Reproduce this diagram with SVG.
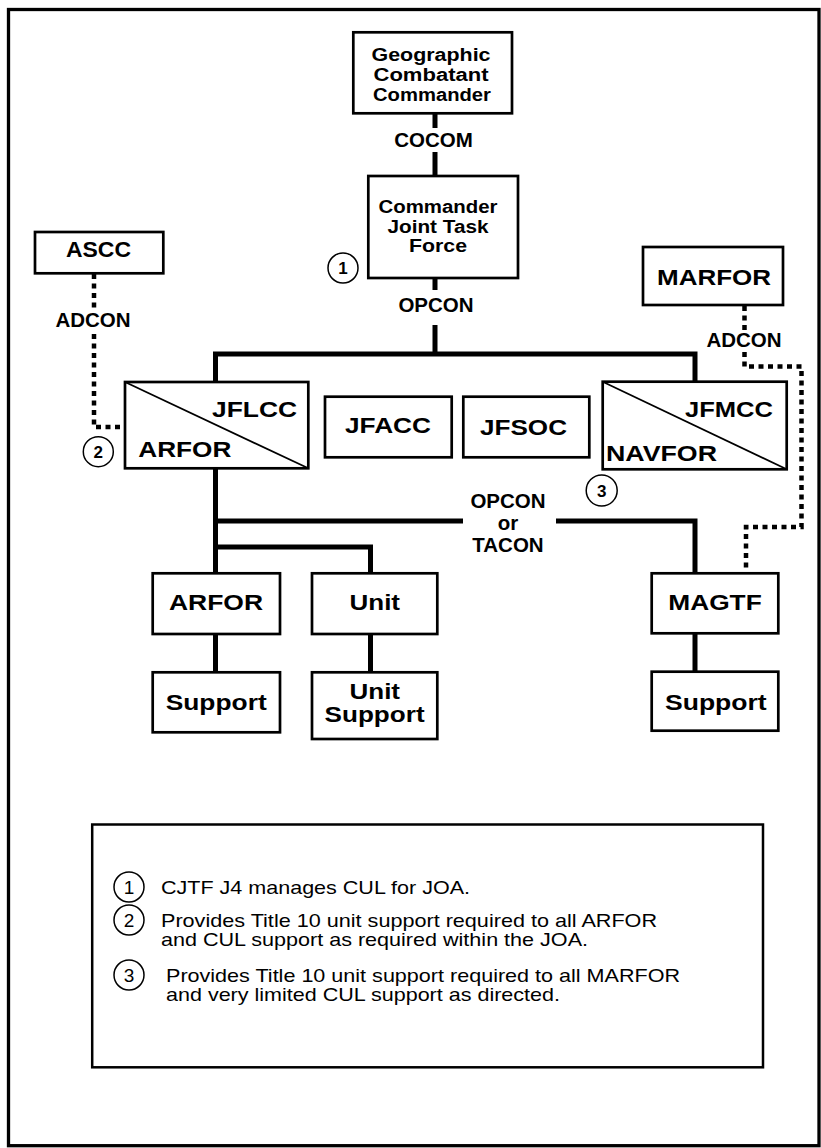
<svg xmlns="http://www.w3.org/2000/svg" width="821" height="1148" viewBox="0 0 821 1148">
<style>
.box{fill:#fff;stroke:#000;stroke-width:2.7}
.diag{stroke:#000;stroke-width:1.8}
.conn{fill:none;stroke:#000;stroke-width:5}
.dot{fill:none;stroke:#000;stroke-width:4.5;stroke-dasharray:5 4.5}
.lb{font-family:"Liberation Sans",Arial,sans-serif;font-weight:bold;font-size:20.5px;text-anchor:middle;fill:#000}
.ml{font-family:"Liberation Sans",Arial,sans-serif;font-weight:bold;font-size:18px;fill:#000}
.big{font-family:"Liberation Sans",Arial,sans-serif;font-weight:bold;font-size:22px;fill:#000}
.note{font-family:"Liberation Sans",Arial,sans-serif;font-size:19px;fill:#000}
.num{font-family:"Liberation Sans",Arial,sans-serif;font-weight:bold;font-size:17px;text-anchor:middle;fill:#000}
.numn{font-family:"Liberation Sans",Arial,sans-serif;font-size:19px;text-anchor:middle;fill:#000}
.circ{fill:#fff;stroke:#000;stroke-width:1.5}
</style>
<rect x="8.5" y="9.5" width="810.5" height="1136.2" fill="#fff" stroke="#000" stroke-width="3.3"/>

<g id="connectors">
  <path class="conn" d="M435 113V128M435 152V176M435 278V290M435 325V354"/>
  <path class="conn" d="M215.5 382V354H695V382"/>
  <path class="conn" d="M215.5 468V573M215.5 521H463M556 521H695V573M215.5 547H370.5V573"/>
  <path class="conn" d="M215.5 634V672M370.5 634V672M695 633V672"/>
  <path class="dot" d="M94 274V309M94 334V427H124"/>
  <path class="dot" d="M744.5 306V331M744.5 352V366.5H801.5V527H746V572"/>
  <text class="lb" x="433.5" y="147">COCOM</text>
  <text class="lb" x="436" y="312">OPCON</text>
  <text class="lb" x="93" y="327">ADCON</text>
  <text class="lb" x="744" y="347">ADCON</text>
  <text class="lb" x="508" y="508">OPCON</text>
  <text class="lb" x="508" y="530">or</text>
  <text class="lb" x="508" y="552">TACON</text>
</g>

<g id="gcc">
  <rect class="box" x="353.3" y="32.3" width="158.7" height="81"/>
  <text class="ml" x="371.5" y="60.5" textLength="119" lengthAdjust="spacingAndGlyphs">Geographic</text>
  <text class="ml" x="373.5" y="81" textLength="115" lengthAdjust="spacingAndGlyphs">Combatant</text>
  <text class="ml" x="373" y="101" textLength="118" lengthAdjust="spacingAndGlyphs">Commander</text>
</g>

<g id="cjtf">
  <rect class="box" x="368.3" y="176" width="149.7" height="102"/>
  <text class="ml" x="378.5" y="213.3" textLength="119" lengthAdjust="spacingAndGlyphs">Commander</text>
  <text class="ml" x="387.5" y="232.5" textLength="101" lengthAdjust="spacingAndGlyphs">Joint Task</text>
  <text class="ml" x="409" y="252.3" textLength="58" lengthAdjust="spacingAndGlyphs">Force</text>
</g>

<g id="note1-marker">
  <circle class="circ" cx="343" cy="268" r="15"/>
  <text class="num" x="343" y="274">1</text>
</g>

<g id="ascc">
  <rect class="box" x="35" y="232" width="128.3" height="41.3"/>
  <text class="big" x="66" y="257" textLength="65" lengthAdjust="spacingAndGlyphs">ASCC</text>
</g>

<g id="marfor">
  <rect class="box" x="643" y="247" width="140" height="58"/>
  <text class="big" x="657" y="285" textLength="114" lengthAdjust="spacingAndGlyphs">MARFOR</text>
</g>

<g id="jflcc">
  <rect class="box" x="125" y="382" width="183.3" height="86.3"/>
  <line class="diag" x1="125" y1="382" x2="308.3" y2="468.3"/>
  <text class="big" x="212" y="417" textLength="85" lengthAdjust="spacingAndGlyphs">JFLCC</text>
  <text class="big" x="138.3" y="457.3" textLength="93" lengthAdjust="spacingAndGlyphs">ARFOR</text>
</g>

<g id="note2-marker">
  <circle class="circ" cx="98.3" cy="451.7" r="15"/>
  <text class="num" x="98.3" y="457.7">2</text>
</g>

<g id="jfacc">
  <rect class="box" x="325" y="396.7" width="126.7" height="60.6"/>
  <text class="big" x="345" y="433" textLength="86" lengthAdjust="spacingAndGlyphs">JFACC</text>
</g>

<g id="jfsoc">
  <rect class="box" x="463.3" y="396.7" width="126" height="60.6"/>
  <text class="big" x="480" y="435" textLength="87" lengthAdjust="spacingAndGlyphs">JFSOC</text>
</g>

<g id="jfmcc">
  <rect class="box" x="602.7" y="381.7" width="184" height="87.6"/>
  <line class="diag" x1="602.7" y1="381.7" x2="786.7" y2="469.3"/>
  <text class="big" x="685" y="417" textLength="88" lengthAdjust="spacingAndGlyphs">JFMCC</text>
  <text class="big" x="606" y="461" textLength="111" lengthAdjust="spacingAndGlyphs">NAVFOR</text>
</g>

<g id="note3-marker">
  <circle class="circ" cx="601.7" cy="490.5" r="15.5"/>
  <text class="num" x="601.7" y="496.5">3</text>
</g>

<g id="arfor">
  <rect class="box" x="152.7" y="573.3" width="127.3" height="60.7"/>
  <text class="big" x="169" y="610" textLength="94" lengthAdjust="spacingAndGlyphs">ARFOR</text>
</g>

<g id="unit">
  <rect class="box" x="312" y="573.3" width="125.3" height="60.7"/>
  <text class="big" x="349.5" y="610" textLength="50.5" lengthAdjust="spacingAndGlyphs">Unit</text>
</g>

<g id="magtf">
  <rect class="box" x="651.7" y="573.3" width="126.6" height="60"/>
  <text class="big" x="668.3" y="610" textLength="93.4" lengthAdjust="spacingAndGlyphs">MAGTF</text>
</g>

<g id="arfor-support">
  <rect class="box" x="152.7" y="672.3" width="127.3" height="60"/>
  <text class="big" x="165.7" y="710" textLength="101" lengthAdjust="spacingAndGlyphs">Support</text>
</g>

<g id="unit-support">
  <rect class="box" x="312" y="672.3" width="125.3" height="66.7"/>
  <text class="big" x="349.5" y="699" textLength="50.5" lengthAdjust="spacingAndGlyphs">Unit</text>
  <text class="big" x="324.6" y="722" textLength="100" lengthAdjust="spacingAndGlyphs">Support</text>
</g>

<g id="magtf-support">
  <rect class="box" x="651.7" y="671.7" width="126.6" height="59"/>
  <text class="big" x="665" y="710" textLength="101.7" lengthAdjust="spacingAndGlyphs">Support</text>
</g>

<g id="legend">
  <rect x="92.2" y="824.5" width="670.8" height="242.8" fill="#fff" stroke="#000" stroke-width="2.5"/>
  <circle class="circ" cx="129" cy="887" r="15"/>
  <text class="numn" x="129" y="894">1</text>
  <text class="note" x="161" y="894" textLength="309" lengthAdjust="spacingAndGlyphs">CJTF J4 manages CUL for JOA.</text>
  <circle class="circ" cx="129" cy="920" r="15"/>
  <text class="numn" x="129" y="927">2</text>
  <text class="note" x="161" y="927" textLength="496" lengthAdjust="spacingAndGlyphs">Provides Title 10 unit support required to all ARFOR</text>
  <text class="note" x="161" y="946" textLength="427" lengthAdjust="spacingAndGlyphs">and CUL support as required within the JOA.</text>
  <circle class="circ" cx="129" cy="975" r="15"/>
  <text class="numn" x="129" y="982">3</text>
  <text class="note" x="166" y="982" textLength="514" lengthAdjust="spacingAndGlyphs">Provides Title 10 unit support required to all MARFOR</text>
  <text class="note" x="166" y="1001" textLength="394" lengthAdjust="spacingAndGlyphs">and very limited CUL support as directed.</text>
</g>
</svg>
